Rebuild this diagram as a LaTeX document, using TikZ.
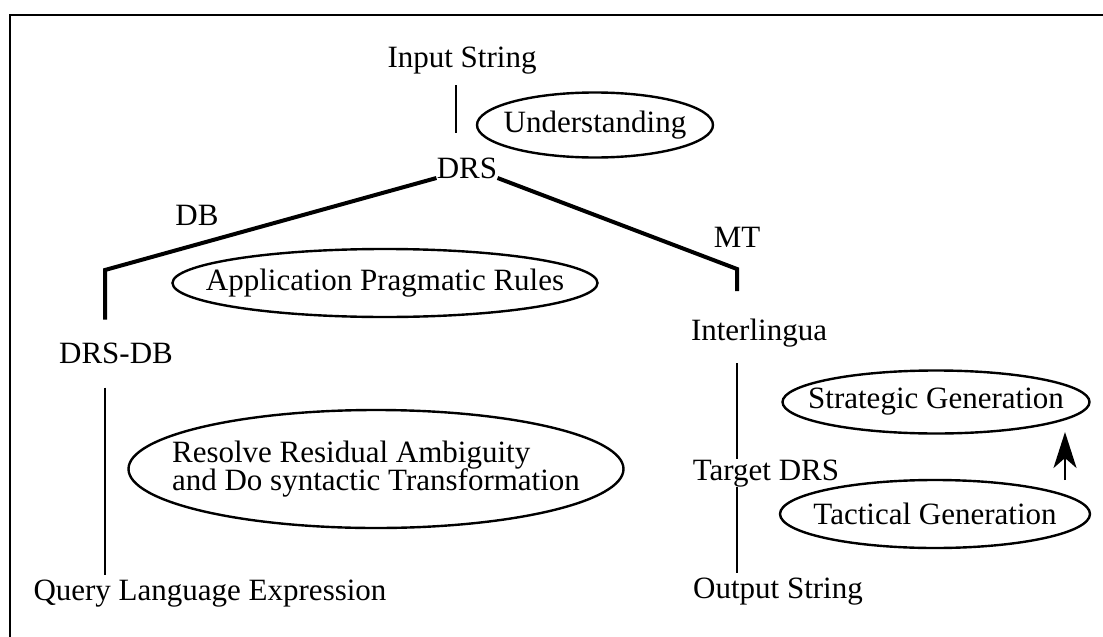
\documentclass[tikz,border=0pt]{standalone}
\usepackage{fontspec}
\setmainfont{Liberation Serif}
\usetikzlibrary{positioning,arrows.meta}
\tikzset{
  lbl/.style = {inner sep=0pt, font=\fontsize{15.5}{18.6}\selectfont},
  tag/.style = {lbl, anchor=base},% text sat on its baseline
  branch/.style = {line width=2pt, line join=miter},
  vl/.style = {line width=1.3pt},
  proc/.style = {line width=1.2pt}% ellipse round a step
}

\begin{document}
\begin{tikzpicture}[x=0.5pt, y=-0.5pt]
\useasboundingbox (0,0) rectangle (1103,637);
\draw[line width=1.4pt] (1103,15) -- (10,15) -- (10,637);

% tree
\node [tag] (in) at (462,68) {Input String};
\node [tag] (drs) at (467,178) {DRS};
\node [tag] (db) at (197,225) {DB};
\node [tag] (mt) at (737,247) {MT};
\node [tag] (drsdb) at (116,363) {DRS-DB};
\node [tag] (qle) at (210,600) {Query Language Expression};
\node [tag] (inter) at (759,340) {Interlingua};
\node [tag] (tdrs) at (766,480) {Target DRS};
\node [tag] (out) at (778,598) {Output String};
\coordinate (dbk) at (105,270);
\coordinate (mtk) at (737,269);

\draw[vl, shorten <=5pt, shorten >=12pt] ([xshift=-3pt]in.south) -- ([xshift=-5.5pt]drs.north);
\draw[branch, shorten >=11.25pt] (drs.base west) -- (dbk) -- (dbk |- drsdb.north);
\draw[branch, shorten >=13.5pt] (drs.base east) -- (mtk) -- (mtk |- inter.north);
\draw[vl, shorten <=12pt, shorten >=2pt] (dbk |- drsdb.south) -- (dbk |- qle.north);
\draw[vl, shorten <=8pt] (mtk |- inter.south) -- (mtk |- tdrs.north);
\draw[vl, shorten >=2pt] (mtk |- tdrs.south) -- (mtk |- out.north);

% steps
\node [lbl] (und) at (595,125) {Understanding};
\draw[proc] (und.center) ellipse [x radius=59pt, y radius=16.25pt];
\node [lbl] (apr) at (385,283) {Application Pragmatic Rules};
\draw[proc] (apr.center) ellipse [x radius=106.25pt, y radius=17pt];
\node [lbl, align=left] (res) at (376,469) {Resolve Residual Ambiguity\\[-4.2pt]and Do syntactic Transformation};
\draw[proc] (res.center) ellipse [x radius=123.75pt, y radius=29.5pt];
\node [lbl] (stg) at (936,402) {Strategic Generation};
\draw[proc] (stg.center) ellipse [x radius=76.75pt, y radius=15.75pt];
\node [lbl] (tac) at (935,514) {Tactical Generation};
\draw[proc] (tac.center) ellipse [x radius=77.5pt, y radius=17pt];

\coordinate (t0) at (1065,480);
\coordinate (t1) at (1065,432);
\draw[vl, -{Stealth[length=18pt, width=11.5pt, inset=5pt]}] (t0) -- (t1);
\end{tikzpicture}
\end{document}
